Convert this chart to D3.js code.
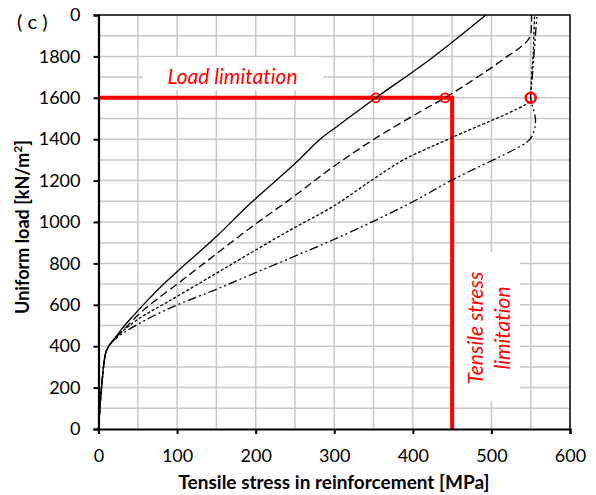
<!DOCTYPE html>
<html>
<head>
<meta charset="utf-8">
<script src="https://cdn.jsdelivr.net/npm/d3@7"></script>
<style>
  html, body { margin: 0; padding: 0; background: #fff; }
  svg { display: block; font-family: Lato, "Open Sans", sans-serif; font-variant-ligatures: none; }
</style>
</head>
<body>
<svg id="chart" width="596" height="495"></svg>
<script>
// ---------- data ----------
const xTicks = [0, 100, 200, 300, 400, 500, 600];
const yTicks = [0, 200, 400, 600, 800, 1000, 1200, 1400, 1600, 1800, 2000];
// the top label is shown clipped to "0" in the reference (hidden behind the panel label)
const yTickLabels = ["0", "200", "400", "600", "800", "1000", "1200", "1400", "1600", "1800", "0"];

// Series: [stress MPa, load kN/m2]
const seriesSolid = [[0,0],[9,365],[13,400],[17,420],[30,485],[45,550],[62,620],[80,690],[100,760],[150,930],[193,1089],[248,1275],[282,1400],[303,1460],[353,1600],[420,1780],[493,2000]];
const seriesLongDash = [[0,0],[9,365],[13,400],[17,420],[32,480],[53,560],[72,620],[100,700],[129,785],[193,971],[248,1122],[298,1265],[349,1396],[413,1541],[441,1600],[514,1783],[548,1887],[551,1950],[551,2000]];
const seriesShortDash = [[0,0],[9,365],[13,400],[17,420],[30,470],[50,530],[87,612],[140,730],[193,849],[248,970],[298,1074],[349,1205],[388,1300],[451,1410],[548,1581],[550,1600],[551,1700],[553,1800],[554,1900],[555,2000]];
const seriesDashDot = [[0,0],[9,365],[13,400],[17,420],[32,465],[53,512],[80,565],[107,610],[150,675],[193,744],[248,832],[298,913],[349,1002],[400,1098],[451,1205],[545,1385],[551,1410],[555,1450],[556,1500],[553,1550],[550,1600],[552,1700],[554,1800],[556,1900],[558,2000]];

const seriesList = [
  { name: "solid", values: seriesSolid, dash: null },
  { name: "longdash", values: seriesLongDash, dash: "8,4" },
  { name: "shortdash", values: seriesShortDash, dash: "3,2" },
  { name: "dashdot", values: seriesDashDot, dash: "9,3,2,3,2,3" }
];

const loadLimit = 1600;
const stressLimit = 450;
const markers = [[353, 1600], [441, 1600], [550, 1600]];

// ---------- layout ----------
const svg = d3.select("#chart");
const x = d3.scaleLinear().domain([0, 600]).range([98.5, 570]);
const y = d3.scaleLinear().domain([0, 2000]).range([429, 15]);

// grid
const gGrid = svg.append("g");
gGrid.selectAll("line.vx").data(d3.range(50, 600, 50)).join("line")
  .attr("x1", d => x(d)).attr("x2", d => x(d))
  .attr("y1", y(0)).attr("y2", y(2000))
  .attr("stroke", "#c8c8c8").attr("stroke-width", 1.5);
gGrid.selectAll("line.hy").data(d3.range(100, 2000, 100)).join("line")
  .attr("x1", x(0)).attr("x2", x(600))
  .attr("y1", d => y(d)).attr("y2", d => y(d))
  .attr("stroke", "#c8c8c8").attr("stroke-width", 1.5);

// white boxes behind annotations
svg.append("rect").attr("x", 143).attr("y", 57).attr("width", 180).attr("height", 33).attr("fill", "#fff");
svg.append("rect").attr("x", 453).attr("y", 252).attr("width", 67).attr("height", 149).attr("fill", "#fff");

// red limitation lines
svg.append("path")
  .attr("d", `M${x(0)},${y(loadLimit)}H${x(stressLimit)}V${y(0)}`)
  .attr("fill", "none").attr("stroke", "#ff0000").attr("stroke-width", 4);

// curves
const line = d3.line().x(d => x(d[0])).y(d => y(d[1])).curve(d3.curveCatmullRom.alpha(0.5));
svg.append("g").selectAll("path").data(seriesList).join("path")
  .attr("d", d => line(d.values))
  .attr("fill", "none").attr("stroke", "#000").attr("stroke-width", 1.3)
  .attr("stroke-dasharray", d => d.dash);

// circles
svg.append("g").selectAll("circle").data(markers).join("circle")
  .attr("cx", d => x(d[0])).attr("cy", d => y(d[1]))
  .attr("r", (d, i) => i === 2 ? 5 : 4.5)
  .attr("fill", "none").attr("stroke", "#ff0000").attr("stroke-width", (d, i) => i === 2 ? 2.5 : 1.8);

// frame top & right
svg.append("path").attr("d", `M${x(0)},${y(2000)}H${x(600)}V${y(0)}`)
  .attr("fill", "none").attr("stroke", "#000").attr("stroke-width", 1.5);

// axes
const xAxis = svg.append("g").attr("transform", `translate(0,${y(0)})`)
  .call(d3.axisBottom(x).tickValues(xTicks).tickSize(5).tickPadding(15).tickFormat(d3.format("d")));
const yAxis = svg.append("g").attr("transform", `translate(${x(0)},0)`)
  .call(d3.axisLeft(y).tickValues(yTicks).tickSize(5).tickPadding(13).tickFormat((d, i) => yTickLabels[i]));
[xAxis, yAxis].forEach(g => {
  g.select(".domain").attr("stroke", "#000").attr("stroke-width", 2.2);
  g.selectAll(".tick line").attr("stroke", "#000").attr("stroke-width", 2);
  g.selectAll(".tick text").attr("font-size", 18).attr("fill", "#000").attr("font-family", "Lato, sans-serif");
});

// panel label
svg.append("text").attr("x", 17).attr("y", 29).attr("font-size", 20).attr("fill", "#000")
  .attr("xml:space", "preserve").text("( c )");

// axis titles
svg.append("text").attr("x", 334).attr("y", 489).attr("text-anchor", "middle")
  .attr("font-size", 19).attr("font-weight", "bold").attr("fill", "#000")
  .text("Tensile stress in reinforcement [MPa]");
const yt = svg.append("text").attr("transform", "translate(29,227) rotate(-90)")
  .attr("text-anchor", "middle").attr("font-size", 18).attr("font-weight", "bold").attr("fill", "#000");
yt.append("tspan").text("Uniform load [kN/m");
yt.append("tspan").attr("font-size", 12).attr("dy", -7).text("2");
yt.append("tspan").attr("dy", 7).text("]");

// annotations
svg.append("text").attr("x", 232.5).attr("y", 84).attr("text-anchor", "middle")
  .attr("font-size", 21).attr("font-style", "italic").attr("fill", "#ff0000").text("Load limitation");
const ta = svg.append("text").attr("transform", "translate(483,328) rotate(-90)")
  .attr("text-anchor", "middle").attr("font-size", 21).attr("font-style", "italic").attr("fill", "#ff0000");
ta.append("tspan").attr("x", 0).attr("y", 0).text("Tensile stress");
ta.append("tspan").attr("x", 0).attr("y", 27).text("limitation");
</script>
</body>
</html>
